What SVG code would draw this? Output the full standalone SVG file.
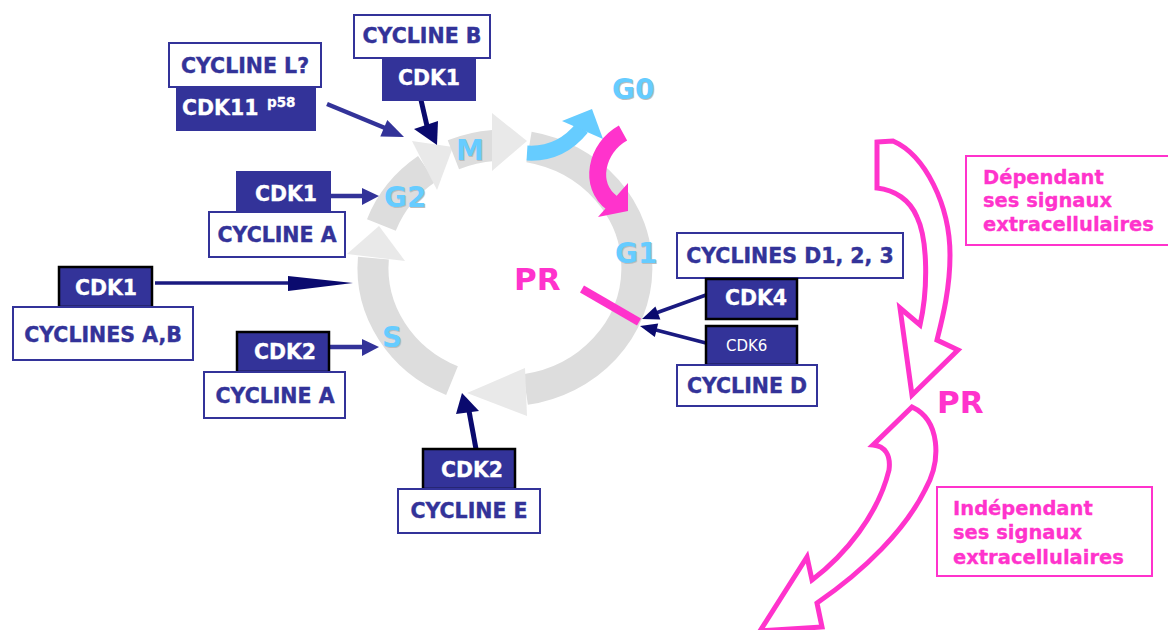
<svg xmlns="http://www.w3.org/2000/svg" width="1168" height="630" viewBox="0 0 1168 630">
<style>
.ring{fill:none;stroke:#dddddd;stroke-width:31}
.rhead{fill:#e9e9e9}
.phase{font-family:"DejaVu Sans",Verdana,sans-serif;font-weight:bold;font-size:28px;fill:#66ccff}
.phs{font-family:"DejaVu Sans",Verdana,sans-serif;font-weight:bold;font-size:28px;fill:#bdbdbd}
.pr{font-family:"DejaVu Sans",Verdana,sans-serif;font-weight:bold;font-size:31px;fill:#ff33cc}
.wbox{fill:#ffffff;stroke:#333399;stroke-width:2}
.dbox{fill:#333399;stroke:#333399;stroke-width:2}
.dboxk{fill:#333399;stroke:#000000;stroke-width:2.5}
.wt{font-family:"DejaVu Sans",Verdana,sans-serif;font-weight:bold;font-size:20.5px;fill:#333399;stroke:#333399;stroke-width:0.4;text-anchor:middle}
.dt{font-family:"DejaVu Sans",Verdana,sans-serif;font-weight:bold;font-size:20.5px;fill:#ffffff;stroke:#ffffff;stroke-width:0.3;text-anchor:middle}
.pbox{fill:#ffffff;stroke:#ff33cc;stroke-width:2}
.pt{font-family:"DejaVu Sans",Verdana,sans-serif;font-weight:bold;font-size:19.5px;fill:#ff33cc;stroke:#ff33cc;stroke-width:0.3}
.big{fill:#ffffff;stroke:#ff33cc;stroke-width:5;stroke-linejoin:miter}
.l1{stroke:#333399;stroke-width:4.5;fill:none}
.l2{stroke:#0a0a6e;stroke-width:5;fill:none}
.l3{stroke:#1a1a80;stroke-width:3.5;fill:none}
.h1{fill:#333399}
.h2{fill:#0a0a6e}
</style>

<g id="cycle">
  <path class="ring" d="M 529 147.1 A 132 123 0 0 1 525.6 389.5"/>
  <polygon class="rhead" points="527,416 525,368 467,393"/>
  <path class="ring" d="M 452 380.7 A 132 123 0 0 1 373.4 258.2"/>
  <polygon class="rhead" points="347,254 405,261 379,226"/>
  <path class="ring" d="M 381.4 224.9 A 132 123 0 0 1 426.8 168.9"/>
  <polygon class="rhead" points="412,141 437,190 453,147"/>
  <path class="ring" d="M 453.4 154.7 A 132 123 0 0 1 493.5 145.5"/>
  <polygon class="rhead" points="492,113 492,171 527,141"/>
</g>

<g id="g0-arrow">
  <path d="M 527 153 Q 560 155 582 128" fill="none" stroke="#66ccff" stroke-width="15"/>
  <polygon points="562,121 592,109 603,139" fill="#66ccff"/>
</g>
<g id="return-arrow">
  <path d="M 623 133 C 596 148 588 185 612 203" fill="none" stroke="#ff33cc" stroke-width="17"/>
  <polygon points="628,183 628,211 598,217" fill="#ff33cc"/>
</g>

<g id="phase-labels">
  <text class="phs" x="457" y="161">M</text>
  <text class="phase" x="456" y="160">M</text>
  <text class="phs" x="385" y="208">G2</text>
  <text class="phase" x="384" y="207">G2</text>
  <text class="phs" x="616" y="264">G1</text>
  <text class="phase" x="615" y="263">G1</text>
  <text class="phs" x="383" y="348">S</text>
  <text class="phase" x="382" y="347">S</text>
  <text class="phs" x="613" y="100">G0</text>
  <text class="phase" x="612" y="99">G0</text>
</g>

<g id="restriction-point">
  <text class="pr" x="514" y="290">PR</text>
  <line x1="582" y1="289" x2="639" y2="322" stroke="#ff33cc" stroke-width="8"/>
</g>

<g id="connectors">
  <line class="l1" x1="327" y1="104" x2="385" y2="128"/>
  <polygon class="h1" points="404,137 380.3,136.6 387.3,120"/>
  <line class="l2" x1="421" y1="100" x2="427" y2="126"/>
  <polygon class="h2" points="437,145 414,129 438,121"/>
  <line class="l1" x1="330" y1="196" x2="363" y2="196"/>
  <polygon class="h1" points="362,188 379,196 362,205"/>
  <line class="l3" x1="155" y1="283" x2="290" y2="283"/>
  <polygon class="h2" points="288,276 353,283 288,291"/>
  <line class="l1" x1="329" y1="347" x2="363" y2="347"/>
  <polygon class="h1" points="362,339 379,347 362,356"/>
  <line class="l2" x1="476" y1="449" x2="469" y2="411"/>
  <polygon class="h2" points="462,393 456,414 479,411"/>
  <line class="l3" x1="706" y1="295" x2="656" y2="313"/>
  <polygon class="h2" points="642,319 660.4,319.6 655.4,306.4"/>
  <line class="l3" x1="706" y1="343" x2="656" y2="330"/>
  <polygon class="h2" points="640,326 658.2,323.4 654.8,337"/>
</g>

<g id="cycline-l">
  <rect class="wbox" x="169" y="43" width="152" height="44"/>
  <text class="wt" x="245" y="73">CYCLINE L?</text>
</g>
<g id="cdk11">
  <rect class="dbox" x="177" y="87" width="138" height="43"/>
  <text class="dt" x="182" y="115" style="text-anchor:start">CDK11</text>
  <text class="dt" x="267" y="107" style="text-anchor:start;font-size:13.5px">p58</text>
</g>
<g id="cycline-b">
  <rect class="wbox" x="354" y="15" width="136" height="43"/>
  <text class="wt" x="422" y="43">CYCLINE B</text>
</g>
<g id="cdk1-m">
  <rect class="dbox" x="383" y="58" width="92" height="42"/>
  <text class="dt" x="429" y="85">CDK1</text>
</g>
<g id="cdk1-g2">
  <rect class="dbox" x="237" y="172" width="93" height="40"/>
  <text class="dt" x="286" y="201">CDK1</text>
</g>
<g id="cycline-a-g2">
  <rect class="wbox" x="209" y="212" width="136" height="45"/>
  <text class="wt" x="277" y="242">CYCLINE A</text>
</g>
<g id="cdk1-s">
  <rect class="dboxk" x="59" y="267" width="93" height="40"/>
  <text class="dt" x="106" y="295">CDK1</text>
</g>
<g id="cyclines-ab">
  <rect class="wbox" x="13" y="307" width="180" height="53"/>
  <text class="wt" x="103" y="342">CYCLINES A,B</text>
</g>
<g id="cdk2-s">
  <rect class="dboxk" x="237" y="332" width="92" height="40"/>
  <text class="dt" x="285" y="359">CDK2</text>
</g>
<g id="cycline-a-s">
  <rect class="wbox" x="204" y="372" width="141" height="46"/>
  <text class="wt" x="275" y="403">CYCLINE A</text>
</g>
<g id="cdk2-e">
  <rect class="dboxk" x="423" y="449" width="92" height="40"/>
  <text class="dt" x="472" y="477">CDK2</text>
</g>
<g id="cycline-e">
  <rect class="wbox" x="398" y="489" width="142" height="44"/>
  <text class="wt" x="469" y="518">CYCLINE E</text>
</g>
<g id="cyclines-d123">
  <rect class="wbox" x="677" y="233" width="226" height="45"/>
  <text class="wt" x="790" y="263">CYCLINES D1, 2, 3</text>
</g>
<g id="cdk4">
  <rect class="dboxk" x="706" y="279" width="91" height="40"/>
  <text class="dt" x="756" y="305">CDK4</text>
</g>
<g id="cdk6">
  <rect class="dboxk" x="706" y="326" width="91" height="39"/>
  <text x="726" y="351" style="font-family:'DejaVu Sans',Verdana,sans-serif;font-size:15px;fill:#ffffff">CDK6</text>
</g>
<g id="cycline-d">
  <rect class="wbox" x="677" y="365" width="140" height="41"/>
  <text class="wt" x="747" y="393">CYCLINE D</text>
</g>

<g id="dependant-arrow">
  <path class="big" d="M 877 142 L 893 141 C 925 155 950 205 950 255 C 950 290 942 320 937 340 L 958 350 L 912 395 L 900 308 L 920 325 C 928 290 928 240 917 217 C 910 200 895 190 877 188 Z"/>
</g>
<g id="pr-right">
  <text class="pr" x="937" y="413">PR</text>
</g>
<g id="independant-arrow">
  <path class="big" d="M 912 407 C 940 420 942 460 925 490 C 905 530 865 570 817 603 L 822 627 L 760 631 L 807 557 L 812 580 C 845 555 878 515 889 470 C 891 455 885 446 873 445 Z"/>
</g>

<g id="dependant-box">
  <rect class="pbox" x="966" y="156" width="205" height="89"/>
  <text class="pt" x="983" y="184">Dépendant</text>
  <text class="pt" x="983" y="207">ses signaux</text>
  <text class="pt" x="983" y="231">extracellulaires</text>
</g>
<g id="independant-box">
  <rect class="pbox" x="937" y="487" width="215" height="89"/>
  <text class="pt" x="953" y="515">Indépendant</text>
  <text class="pt" x="953" y="539">ses signaux</text>
  <text class="pt" x="953" y="564">extracellulaires</text>
</g>
</svg>
